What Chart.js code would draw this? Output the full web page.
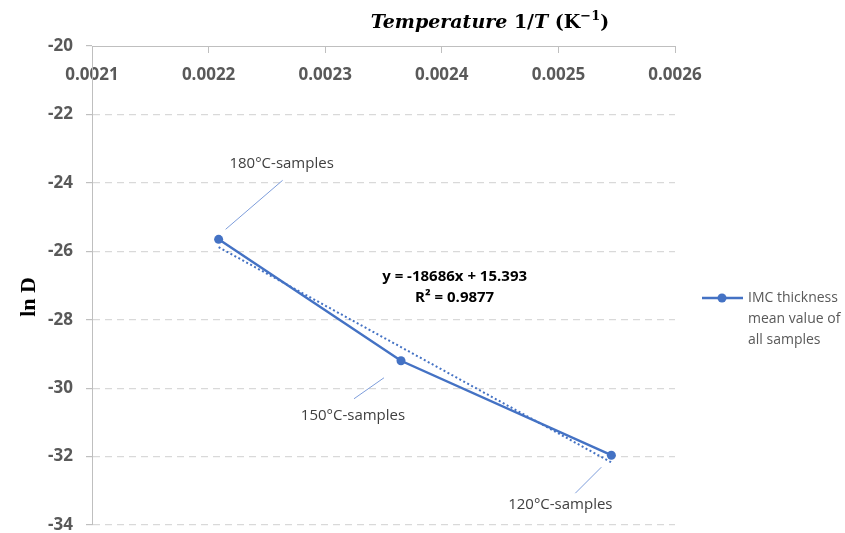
<!DOCTYPE html>
<html>
<head>
<meta charset="utf-8">
<script src="https://cdn.jsdelivr.net/npm/chart.js@4/dist/chart.umd.min.js"></script>
<style>
  html, body { margin: 0; padding: 0; background: #ffffff; }
  #wrap { width: 845px; height: 533px; position: relative; }
</style>
</head>
<body>
<div id="wrap"><canvas id="c" width="845" height="533"></canvas></div>
<script>
// ---- data ----
const sampleLabels = ['180°C-samples', '150°C-samples', '120°C-samples'];
const inverseT = [0.0022086, 0.002365, 0.0025454];   // 1/T (K^-1)
const lnD = [-25.65, -29.20, -31.96];
const trendX = [0.0022086, 0.0025454];
const trendY = [-25.88, -32.17];
const xTickValues = [0.0021, 0.0022, 0.0023, 0.0024, 0.0025, 0.0026];
const yTickValues = [-34, -32, -30, -28, -26, -24, -22, -20];
const seriesName = 'IMC thickness mean value of all samples';
const legendLines = ['IMC thickness', 'mean value of', 'all samples'];
const equationText = ['y = -18686x + 15.393', 'R² = 0.9877'];
const equationAnchor = [0.002411, -26.75];

const BLUE = '#4472C4';
const AXIS = '#bfbfbf';
const GRID = '#d9d9d9';
const TICKTXT = '#595959';
const SANS = "'Open Sans', 'Liberation Sans', sans-serif";
const SERIF = "'Liberation Serif', 'DejaVu Serif', serif";
const TSERIF = "'DejaVu Serif', 'Liberation Serif', serif";

const mainData = inverseT.map((x, i) => ({ x: x, y: lnD[i] }));
const trendData = trendX.map((x, i) => ({ x: x, y: trendY[i] }));

// label offsets (style, relative to the point pixel)
const annot = [
  { lx: 63, ly: -76, a: [7, -10], b: [64, -59] },
  { lx: -48, ly: 55, a: [-47, 38], b: [-17, 17] },
  { lx: -51, ly: 50, a: [-36, 38], b: [-10, 12] }
];

const extras = {
  id: 'extras',
  afterDatasetsDraw(chart) {
    const ctx = chart.ctx;
    const xs = chart.scales.x, ys = chart.scales.y;
    ctx.save();
    inverseT.forEach((v, i) => {
      const px = xs.getPixelForValue(v), py = ys.getPixelForValue(lnD[i]);
      const an = annot[i];
      ctx.strokeStyle = '#7d9ddb';
      ctx.lineWidth = 1;
      ctx.beginPath();
      ctx.moveTo(px + an.a[0], py + an.a[1]);
      ctx.lineTo(px + an.b[0], py + an.b[1]);
      ctx.stroke();
      ctx.fillStyle = '#404040';
      ctx.font = '15px ' + SANS;
      ctx.textAlign = 'center';
      ctx.textBaseline = 'middle';
      ctx.fillText(sampleLabels[i], px + an.lx, py + an.ly);
    });
    ctx.fillStyle = '#000000';
    ctx.font = 'bold 15px ' + SANS;
    ctx.textAlign = 'center';
    ctx.textBaseline = 'middle';
    const ex = xs.getPixelForValue(equationAnchor[0]), ey = ys.getPixelForValue(equationAnchor[1]);
    ctx.fillText(equationText[0], ex, ey);
    ctx.fillText(equationText[1], ex, ey + 21);
    ctx.restore();
  },
  afterDraw(chart) {
    const ctx = chart.ctx;
    const area = chart.chartArea;
    ctx.save();
    const parts = [
      { t: 'Temperature ', f: 'italic bold 19px ' + TSERIF, dy: 0 },
      { t: '1/', f: 'bold 19px ' + TSERIF, dy: 0 },
      { t: 'T', f: 'italic bold 19px ' + TSERIF, dy: 0 },
      { t: ' (K', f: 'bold 19px ' + TSERIF, dy: 0 },
      { t: '−1', f: 'bold 13px ' + TSERIF, dy: -8 },
      { t: ')', f: 'bold 19px ' + TSERIF, dy: 0 }
    ];
    let total = 0;
    parts.forEach(p => { ctx.font = p.f; p.w = ctx.measureText(p.t).width; total += p.w; });
    let x = 490 - total / 2;
    const baseY = 28;
    ctx.fillStyle = '#000000';
    ctx.textAlign = 'left';
    ctx.textBaseline = 'alphabetic';
    parts.forEach(p => { ctx.font = p.f; ctx.fillText(p.t, x, baseY + p.dy); x += p.w; });
    ctx.save();
    ctx.translate(29, 297);
    ctx.rotate(-Math.PI / 2);
    ctx.font = 'bold 22px ' + SERIF;
    ctx.textAlign = 'center';
    ctx.textBaseline = 'middle';
    ctx.fillText('ln D', 0, 0);
    ctx.restore();
    const ly = 298;
    const lx0 = area.right + 27;
    ctx.strokeStyle = BLUE;
    ctx.lineWidth = 2.5;
    ctx.beginPath();
    ctx.moveTo(lx0, ly);
    ctx.lineTo(lx0 + 41, ly);
    ctx.stroke();
    ctx.fillStyle = BLUE;
    ctx.beginPath();
    ctx.arc(lx0 + 20, ly, 4.5, 0, Math.PI * 2);
    ctx.fill();
    ctx.fillStyle = TICKTXT;
    ctx.font = '14px ' + SANS;
    ctx.textAlign = 'left';
    ctx.textBaseline = 'middle';
    legendLines.forEach((t, i) => ctx.fillText(t, lx0 + 46, ly + i * 21));
    ctx.restore();
  }
};

function zeroPad(s) { s.paddingTop = 0; s.paddingBottom = 0; s.paddingLeft = 0; s.paddingRight = 0; }

new Chart(document.getElementById('c'), {
  type: 'scatter',
  data: {
    datasets: [
      {
        label: seriesName,
        data: mainData,
        showLine: true,
        borderColor: BLUE,
        backgroundColor: BLUE,
        borderWidth: 2.5,
        pointRadius: 4.5,
        pointHoverRadius: 4.5,
        pointBorderWidth: 0,
        tension: 0,
        order: 1
      },
      {
        label: 'Linear trend',
        data: trendData,
        showLine: true,
        borderColor: BLUE,
        borderWidth: 2,
        borderDash: [2, 2.5],
        pointRadius: 0,
        pointHoverRadius: 0,
        order: 2
      }
    ]
  },
  options: {
    responsive: false,
    animation: false,
    events: [],
    layout: { padding: { top: 0, left: 0, right: 170, bottom: 8 } },
    plugins: {
      legend: { display: false },
      tooltip: { enabled: false },
      title: { display: false }
    },
    scales: {
      x: {
        type: 'linear',
        position: 'top',
        min: 0.0021,
        max: 0.0026,
        afterBuildTicks: s => { s.ticks = xTickValues.map(v => ({ value: v })); },
        afterFit: s => { s.height = 46; zeroPad(s); },
        border: { display: true, color: AXIS, width: 1 },
        grid: { display: true, drawOnChartArea: false, drawTicks: true, tickLength: -7, color: AXIS, tickColor: AXIS },
        ticks: {
          mirror: true,
          padding: 19,
          color: TICKTXT,
          font: { family: SANS, size: 17, weight: 'bold' },
          maxRotation: 0,
          callback: v => Number(v).toFixed(4)
        },
        title: { display: false }
      },
      y: {
        type: 'linear',
        min: -34,
        max: -20,
        afterBuildTicks: s => { s.ticks = yTickValues.map(v => ({ value: v })); },
        afterFit: s => { s.width = 92; zeroPad(s); },
        border: { display: true, color: AXIS, width: 1, dash: [7, 5] },
        grid: {
          display: true,
          color: ctx => (ctx.tick && ctx.tick.value === -20) ? 'rgba(0,0,0,0)' : GRID,
          lineWidth: 1.2,
          tickBorderDash: [],
          tickColor: AXIS,
          tickLength: 6,
          drawTicks: true
        },
        ticks: {
          padding: 13,
          color: TICKTXT,
          font: { family: SANS, size: 17, weight: 'bold' },
          callback: v => String(v)
        },
        title: { display: false }
      }
    }
  },
  plugins: [extras]
});
</script>
</body>
</html>
